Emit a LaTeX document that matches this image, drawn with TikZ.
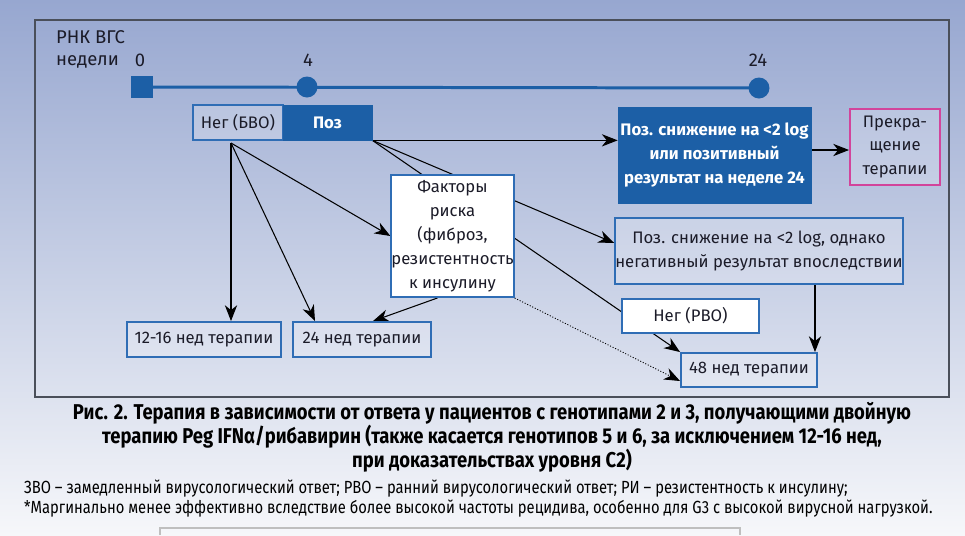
\documentclass[tikz,border=0pt]{standalone}
\usepackage{fontspec}
\setmainfont{Fira Sans}
\newfontfamily\capfont[FakeStretch=0.86]{Fira Sans}
\newfontfamily\notefont[FakeStretch=0.84]{Fira Sans}
\usetikzlibrary{arrows.meta,positioning,calc}
\definecolor{hcvblue}{RGB}{28,95,166}
\definecolor{hcvedge}{RGB}{47,109,181}
\definecolor{hcvframe}{RGB}{74,79,90}
\definecolor{hcvpink}{RGB}{210,68,155}
\definecolor{hcvtext}{RGB}{27,27,40}
\definecolor{bgtop}{RGB}{151,167,208}
\definecolor{bgbot}{RGB}{246,247,250}
\pgfdeclarelayer{bg}
\pgfdeclarelayer{links}
\pgfsetlayers{bg,links,main}

\begin{document}
\begin{tikzpicture}[x=0.02cm, y=-0.02cm,
  lbox/.style={rectangle, draw=hcvedge, line width=1.1pt, fill=white, fill opacity=0.2,
               text opacity=1, inner sep=0pt, align=center, text=hcvtext,
               font=\fontsize{9.5}{13.6}\selectfont},
  wbox/.style={lbox, fill opacity=1},
  dbox/.style={rectangle, draw=hcvblue, fill=hcvblue, inner sep=0pt, align=center,
               text=white, font=\fontsize{9.5}{13.6}\selectfont\bfseries},
  farr/.style={-{Stealth[length=9pt, width=7pt, inset=2.8pt]}, line width=0.6pt},
  tick/.style={font=\fontsize{10.5}{12}\selectfont, text=hcvtext}
]
\useasboundingbox (0,0) rectangle (965,535);
\begin{pgfonlayer}{bg}
\shade[top color=bgtop, bottom color=bgbot] (0,0) rectangle (965,535);
\draw[hcvframe, line width=1pt] (35,20) rectangle (949,397);
\draw[black!25, line width=0.6pt] (160,535) -- (160,528) -- (740,528) -- (740,535);
\end{pgfonlayer}

% Timeline
\node[tick, anchor=west] (rna)   at (50,37) {РНК ВГС};
\node[tick, anchor=west] (weeks) at (50,62) {недели};
\node[rectangle, fill=hcvblue, minimum size=0.44cm, inner sep=0pt] (t0) at (142,87) {};
\node[circle, fill=hcvblue, minimum size=0.42cm, inner sep=0pt]    (t4) at (307,87) {};
\node[circle, fill=hcvblue, minimum size=0.42cm, inner sep=0pt]    (t24) at (759,88) {};
\node[tick] (w0)  at (140,60) {0};
\node[tick] (w4)  at (308,60) {4};
\node[tick] (w24) at (758,60) {24};

% Response boxes
\node[lbox, minimum width=1.8cm, minimum height=0.7cm]   (negbvo) at (238,122.5) {Нег (БВО)};
\node[dbox, minimum width=1.78cm, minimum height=0.7cm]  (poz)    at (327.5,122.5) {Поз};
\node[wbox, minimum width=2.38cm, minimum height=2.44cm] (factors) at (452.5,236)
  {Факторы\\риска\\(фиброз,\\резистентность\\к инсулину};
\node[dbox, minimum width=3.86cm, minimum height=1.92cm] (decl24) at (714.5,155)
  {Поз. снижение на <2 log\\или позитивный\\результат на неделе 24};
\node[lbox, draw=hcvpink, minimum width=1.8cm, minimum height=1.52cm] (stop) at (895,147)
  {Прекра-\\щение\\терапии};
\node[lbox, minimum width=5.56cm, minimum height=1.32cm] (declneg) at (759,251)
  {Поз. снижение на <2 log, однако\\негативный результат впоследствии};
\node[wbox, minimum width=2.74cm, minimum height=0.68cm] (negrvo) at (690.5,316) {Нег (РВО)};

% Therapy length boxes
\node[lbox, minimum width=3.08cm, minimum height=0.7cm]  (wk1216) at (204,339.5) {12-16 нед терапии};
\node[lbox, minimum width=2.76cm, minimum height=0.7cm]  (wk24)   at (362,339.5) {24 нед терапии};
\node[lbox, minimum width=2.72cm, minimum height=0.68cm] (wk48)   at (749,370) {48 нед терапии};

\coordinate (bvosrc) at (231,143);
\coordinate (pozsrc) at (poz.south east);

% Arrows
\begin{pgfonlayer}{links}
\draw[hcvblue, line width=1.7pt] (t0.center) -- (t24.center);
\draw[farr] (bvosrc) -- (bvosrc |- wk1216.north);
\draw[farr] (bvosrc) -- ([xshift=-0.94cm]wk24.north);
\draw[farr] (bvosrc) -- (factors.west);
\draw[farr] (pozsrc) -- (pozsrc -| decl24.west);
\draw[farr] (pozsrc) -- ([yshift=0.16cm]declneg.west);
\draw[farr] (pozsrc) -- (wk48.north west);
\draw[farr] ([xshift=-0.3cm]factors.south) -- ([xshift=0.22cm]wk24.north);
\draw[farr, densely dotted, line width=0.5pt] (factors.south east) -- ([yshift=-0.22cm]wk48.west);
\draw[farr] ([xshift=1.12cm]declneg.south) -- ([xshift=1.12cm]declneg.south |- wk48.north);
\draw[farr] ([yshift=0.1cm]decl24.east) -- ([yshift=0.1cm]decl24.east -| stop.west);
\end{pgfonlayer}

% Caption
\node[align=center, text=black, font=\capfont\fontsize{12.2}{13.6}\selectfont\bfseries] (caption) at (492,437)
  {Рис. 2. Терапия в зависимости от ответа у пациентов с генотипами 2 и 3, получающими двойную\\
   терапию Peg IFNα/рибавирин (также касается генотипов 5 и 6, за исключением 12-16 нед,\\
   при доказательствах уровня С2)};
\node[anchor=west, align=left, text=black, font=\notefont\fontsize{10}{11}\selectfont] (notes) at (18,498.5)
  {ЗВО – замедленный вирусологический ответ; РВО – ранний вирусологический ответ; РИ – резистентность к инсулину;\\
   *Маргинально менее эффективно вследствие более высокой частоты рецидива, особенно для G3 с высокой вирусной нагрузкой.};
\end{tikzpicture}
\end{document}
